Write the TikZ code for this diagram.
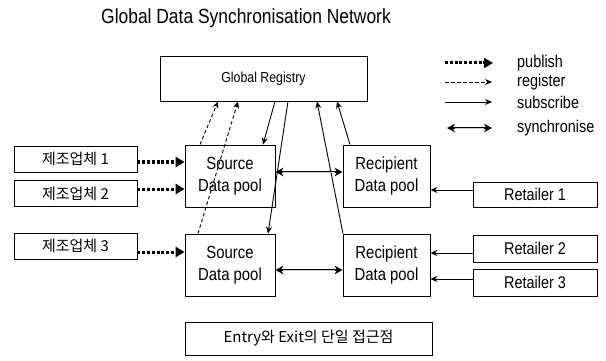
\documentclass[tikz,border=0pt]{standalone}
\usepackage{fontspec}
\setmainfont{Liberation Sans}[FakeStretch=0.85]
\newfontfamily\kr{Noto Sans CJK KR}
\usetikzlibrary{arrows.meta}
\begin{document}
\begin{tikzpicture}[x=1pt,y=-1pt,
  box/.style={draw, line width=0.8pt, inner sep=0pt, align=center},
  pool/.style={box, minimum width=90pt, minimum height=62pt, font=\fontsize{17.5}{22}\selectfont},
  maker/.style={box, minimum width=123pt, minimum height=26pt, font=\kr\fontsize{15}{18}\selectfont},
  retail/.style={box, minimum width=124pt, minimum height=26pt, font=\fontsize{17}{20}\selectfont},
  lbl/.style={anchor=west, inner sep=0pt, font=\fontsize{17}{20}\selectfont},
  pub/.style={line width=3pt, dash pattern=on 3pt off 1.8pt, -{Triangle[length=9pt,width=10pt]}},
  reg/.style={dash pattern=on 3.5pt off 2.5pt, line width=0.9pt, -{Stealth[length=7pt,width=6pt]}},
  sub/.style={line width=0.9pt, -{Stealth[length=7pt,width=6pt]}},
  synbase/.style={line width=2.8pt, {Stealth[length=8pt,width=8.5pt]}-{Stealth[length=8pt,width=8.5pt]}},
  syncore/.style={draw=gray!40, line width=0.8pt, shorten <=8pt, shorten >=8pt}]
\useasboundingbox (0,0) rectangle (606,361);

\node[inner sep=0pt, font=\fontsize{20.5}{24}\selectfont] (title) at (246,18) {Global Data Synchronisation Network};

\node[box, minimum width=207pt, minimum height=45pt, font=\fontsize{14.5}{17}\selectfont] (greg) at (263.5,78.5) {Global Registry};

\node[maker] (m1) at (75.5,159) {제조업체 1};
\node[maker] (m2) at (75.5,193.5) {제조업체 2};
\node[maker] (m3) at (75.5,246) {제조업체 3};

\node[pool] (src1) at (230,176) {Source\\Data pool};
\node[pool] (src2) at (230,265) {Source\\Data pool};
\node[pool, minimum width=87pt] (rec1) at (386.5,176) {Recipient\\Data pool};
\node[pool, minimum width=87pt] (rec2) at (386.5,265) {Recipient\\Data pool};

\node[retail, minimum height=25pt] (ret1) at (535,194.5) {Retailer 1};
\node[retail, minimum height=27pt] (ret2) at (535,248.5) {Retailer 2};
\node[retail, minimum height=27pt] (ret3) at (535,282.5) {Retailer 3};

\node[box, minimum width=247pt, minimum height=33pt, font=\kr\fontsize{15}{18}\selectfont] (entry) at (308.5,338.5) {Entry와 Exit의 단일 접근점};

% publish
\draw[pub] (m1.east |- 0,162) -- (src1.west |- 0,162);
\draw[pub] (m2.east |- 0,189) -- (src1.west |- 0,189);
\draw[pub] (m3.east |- 0,252) -- (src2.west |- 0,252);

% register
\draw[reg] (src1.north -| 200,0) -- (greg.south -| 218,0);
\draw[reg] (src2.north -| 198,0) -- (greg.south -| 238,0);

% subscribe
\draw[sub] (greg.south -| 275,0) -- (src1.north -| 263,0);
\draw[sub] (greg.south -| 288,0) -- (src2.north -| 268,0);
\draw[sub] (rec1.north -| 350,0) -- (greg.south -| 337,0);
\draw[sub] (rec2.north -| 343,0) -- (greg.south -| 317,0);
\draw[sub] (ret1.west |- 0,190) -- (rec1.east |- 0,190);
\draw[sub] (ret2.west |- 0,253) -- (rec2.east |- 0,253);
\draw[sub] (ret3.west |- 0,279) -- (rec2.east |- 0,279);

% synchronise
\draw[synbase] (src1.east |- 0,172) -- (rec1.west |- 0,172);
\draw[syncore] (src1.east |- 0,172) -- (rec1.west |- 0,172);
\draw[synbase] (src2.east |- 0,270) -- (rec2.west |- 0,270);
\draw[syncore] (src2.east |- 0,270) -- (rec2.west |- 0,270);

% legend
\coordinate (l1a) at (445,63);  \coordinate (l1b) at (493,63);
\coordinate (l2a) at (445,82);  \coordinate (l2b) at (492,82);
\coordinate (l3a) at (445,102); \coordinate (l3b) at (492,102);
\coordinate (l4a) at (447,128); \coordinate (l4b) at (492,128);
\draw[pub] (l1a) -- (l1b);
\draw[reg] (l2a) -- (l2b);
\draw[sub] (l3a) -- (l3b);
\draw[synbase] (l4a) -- (l4b);
\draw[syncore] (l4a) -- (l4b);
\node[lbl] (t1) at (517,63) {publish};
\node[lbl] (t2) at (517,82) {register};
\node[lbl] (t3) at (517,102) {subscribe};
\node[lbl] (t4) at (517,128) {synchronise};
\end{tikzpicture}
\end{document}
